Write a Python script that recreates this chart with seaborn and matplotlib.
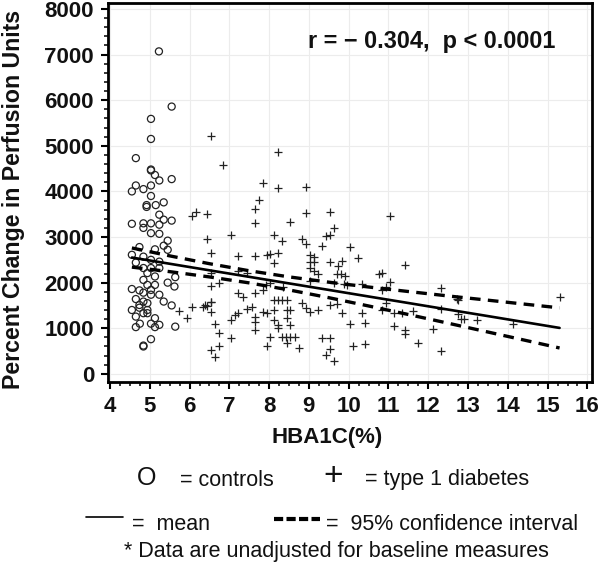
import numpy as np
import seaborn as sns
import matplotlib.pyplot as plt
from matplotlib.lines import Line2D

# controls (open circles): HbA1c %, percent change
ctrl_x = [5.23, 5.55, 5.03, 5.03, 4.65, 5.03, 5.03, 5.13, 5.24, 5.55, 4.65, 4.55, 4.84, 5.03,
          5.03, 4.92, 4.92, 5.15, 5.35, 4.55, 4.84, 4.84, 5.03, 5.24, 5.24, 5.35, 5.55, 5.03,
          5.24, 5.45, 5.35, 5.13, 4.74, 4.55, 4.84, 5.03, 5.24, 5.45, 4.65, 4.84, 5.03, 5.24,
          4.94, 5.13, 4.84, 5.64, 5.45, 5.62, 4.55, 4.74, 4.94, 5.13, 5.03, 4.84, 5.03, 5.24,
          4.65, 4.84, 5.35, 4.74, 4.94, 4.55, 4.94, 4.94, 4.74, 5.55, 4.65, 4.84, 5.13, 5.03,
          4.65, 4.75, 5.24, 5.13, 5.64, 5.03, 4.84, 4.84]
ctrl_y = [7070, 5860, 5590, 5150, 4730, 4480, 4460, 4360, 4240, 4270, 4130, 4000, 4050, 4130,
          3900, 3660, 3700, 3700, 3760, 3290, 3300, 3200, 3300, 3490, 3270, 3380, 3360, 3085,
          3070, 2920, 2810, 2730, 2780, 2610, 2570, 2500, 2460, 2720, 2440, 2320, 2320, 2320,
          2210, 2135, 2060, 2120, 2000, 1915, 1860, 1830, 1950, 1950, 1840, 1780, 1735, 1735,
          1640, 1585, 1585, 1510, 1550, 1400, 1400, 1330, 1450, 1500, 1255, 1330, 1220, 1100,
          1025, 1100, 1075, 1025, 1035, 760, 600, 620]

# type 1 diabetes (plus signs)
dm_x = [6.53, 6.83, 8.23, 7.84, 8.23, 8.92, 7.74, 7.64, 7.64, 8.92, 9.53, 9.62, 8.53, 6.05,
        6.15, 6.43, 6.43, 6.53, 7.04, 8.13, 8.33, 8.82, 8.92, 9.42, 9.53, 9.33, 10.04, 10.23,
        7.23, 7.64, 7.94, 8.03, 8.13, 8.23, 9.03, 9.12, 9.03, 9.14, 9.03, 9.14, 9.22, 9.53,
        9.73, 9.83, 9.70, 9.81, 9.91, 10.77, 6.54, 6.54, 6.74, 7.23, 7.44, 8.36, 7.92, 8.03,
        9.03, 9.62, 9.87, 9.95, 10.33, 7.23, 7.34, 7.64, 7.84, 8.13, 8.23, 8.33, 8.44, 8.82,
        8.93, 9.03, 9.22, 9.53, 9.70, 9.83, 10.02, 10.33, 10.41, 10.12, 10.41, 6.43, 6.35,
        6.54, 6.54, 6.05, 5.93, 6.63, 6.74, 6.74, 6.53, 6.63, 7.04, 7.04, 7.15, 7.23, 7.44,
        7.57, 7.64, 7.64, 7.64, 7.84, 7.94, 8.13, 8.13, 8.23, 8.23, 8.44, 8.53, 8.44, 8.53,
        8.33, 8.43, 8.53, 8.64, 8.44, 8.03, 7.94, 8.74, 9.33, 9.53, 9.53, 9.42, 9.62, 5.74,
        6.39, 6.53, 11.03, 11.42, 10.84, 10.94, 11.03, 10.84, 10.94, 10.84, 11.13, 11.34,
        11.61, 11.13, 11.42, 11.42, 11.73, 12.11, 12.32, 12.32, 12.32, 12.71, 12.74, 12.74,
        12.81, 12.91, 13.22, 14.12, 15.30]
dm_y = [5225, 4585, 4860, 4195, 4070, 4095, 3815, 3610, 3300, 3520, 3545, 3200, 3325, 3465,
        3540, 3505, 2950, 2660, 3040, 3040, 2920, 2950, 2840, 3020, 3050, 2810, 2780, 2540,
        2590, 2590, 2610, 2630, 2425, 2650, 2610, 2570, 2460, 2450, 2320, 2245, 2200, 2450,
        2375, 2485, 2190, 2190, 2155, 2190, 2210, 1930, 1990, 2265, 2210, 1915, 1950, 1990,
        2025, 1990, 1975, 1945, 1975, 1780, 1680, 1780, 1840, 1620, 1620, 1620, 1620, 1550,
        1440, 1365, 1390, 1510, 1535, 1330, 1095, 1330, 1125, 600, 660, 1490, 1460,
        1585, 1360, 1460, 1220, 1090, 890, 620, 525, 365, 775, 1185, 1285, 1330, 1420,
        1460, 1255, 1145, 965, 1365, 1330, 1400, 1185, 1075, 1015, 1400, 1390, 1220, 1075,
        805, 805, 805, 805, 670, 805, 600, 565, 775, 775, 540, 415, 290, 1380,
        1500, 1570, 3465, 2390, 2205, 1915, 2010, 1830, 1550, 1390, 1330, 1330,
        1375, 1060, 965, 870, 685, 985, 1880, 1425, 505, 1645, 1610, 1315,
        1200, 1200, 1170, 1095, 1695]

# regression mean and 95% confidence band
fit_x = [4.55, 5.5, 6.5, 7.5, 8.5, 9.5, 10.5, 11.5, 12.5, 13.5, 14.5, 15.3]
fit_mean = [2550, 2414, 2270, 2127, 1983, 1840, 1696, 1553, 1409, 1266, 1122, 1007]
fit_upper = [2760, 2587, 2415, 2260, 2126, 2010, 1904, 1805, 1708, 1615, 1521, 1447]
fit_lower = [2340, 2241, 2125, 1994, 1840, 1670, 1488, 1301, 1110, 917, 723, 567]

sns.set_style("whitegrid", {"grid.color": "#ececec", "axes.edgecolor": "black"})
plt.rcParams['font.family'] = ['Liberation Sans', 'DejaVu Sans']

fig = plt.figure(figsize=(6, 5.64), dpi=100)
ax = fig.add_axes([0.18, 0.323, 0.807, 0.672])

ink = '#222222'
txt = '#111111'
sns.scatterplot(x=ctrl_x, y=ctrl_y, ax=ax, marker='o', s=26, facecolor='none',
                edgecolor=ink, linewidth=0.9)
sns.scatterplot(x=dm_x, y=dm_y, ax=ax, marker='+', s=30, color=ink, linewidth=0.9)

dash = (0, (3.2, 2.2))
sns.lineplot(x=fit_x, y=fit_mean, ax=ax, color='black', linewidth=1.9)
sns.lineplot(x=fit_x, y=fit_upper, ax=ax, color='black', linewidth=2.4, linestyle=dash)
sns.lineplot(x=fit_x, y=fit_lower, ax=ax, color='black', linewidth=2.4, linestyle=dash)

ax.set_xlim(3.95, 16.12)
ax.set_ylim(-175, 8135)
ax.set_xticks(range(4, 17))
ax.set_yticks(range(0, 8001, 1000))
ax.set_xticks(np.arange(4.25, 16, 0.25), minor=True)
ax.set_yticks(np.arange(200, 8000, 200), minor=True)
ax.grid(True, which='major', color='#ececec', linewidth=0.8)
ax.grid(False, which='minor')
for s in ax.spines.values():
    s.set_linewidth(2)
    s.set_color('black')
ax.tick_params(which='major', direction='out', length=5, width=1.5, color='black',
               labelsize=16, pad=5, bottom=True, left=True)
ax.tick_params(which='minor', direction='out', length=3, width=1.1, color='black',
               bottom=True, left=True)
for lab in ax.get_xticklabels() + ax.get_yticklabels():
    lab.set_fontweight('bold')
    lab.set_color(txt)

ax.set_xlabel('HBA1C(%)', fontsize=16, fontweight='bold', color=txt)
ax.xaxis.set_label_coords(0.452, -0.118)
ax.set_ylabel('Percent Change in Perfusion Units', fontsize=16.7, fontweight='bold',
              color=txt)
ax.yaxis.set_label_coords(-0.172, 0.48)

ax.text(0.923, 0.897, 'r = \u2212 0.304,  p < 0.0001', transform=ax.transAxes,
        ha='right', va='center', fontsize=16.9, fontweight='bold', color=txt)

# key below the plot
def fy(py):
    return 1 - py / 564

fs = 15.5
fig.text(147 / 600, fy(478), 'O', fontsize=18, ha='center', va='center', color=txt)
fig.text(180 / 600, fy(480), '= controls', fontsize=fs, ha='left', va='center', color=txt)
fig.text(333 / 600, fy(477), '+', fontsize=24, ha='center', va='center', color=txt)
fig.text(365 / 600, fy(480), '= type 1 diabetes', fontsize=fs, ha='left', va='center',
         color=txt)
fig.add_artist(Line2D([86 / 600, 123 / 600], [fy(517)] * 2, color='black', linewidth=1.2))
fig.text(132 / 600, fy(525), '=  mean', fontsize=fs, ha='left', va='center', color=txt)
fig.add_artist(Line2D([274 / 600, 320 / 600], [fy(519)] * 2, color='black', linewidth=3,
                      linestyle=(0, (2.2, 0.8))))
fig.text(326 / 600, fy(525), '=  95% confidence interval', fontsize=fs, ha='left',
         va='center', color=txt)
fig.text(336 / 600, fy(552), '* Data are unadjusted for baseline measures', fontsize=fs,
         ha='center', va='center', color=txt)

fig.savefig('out.png', dpi=100)
